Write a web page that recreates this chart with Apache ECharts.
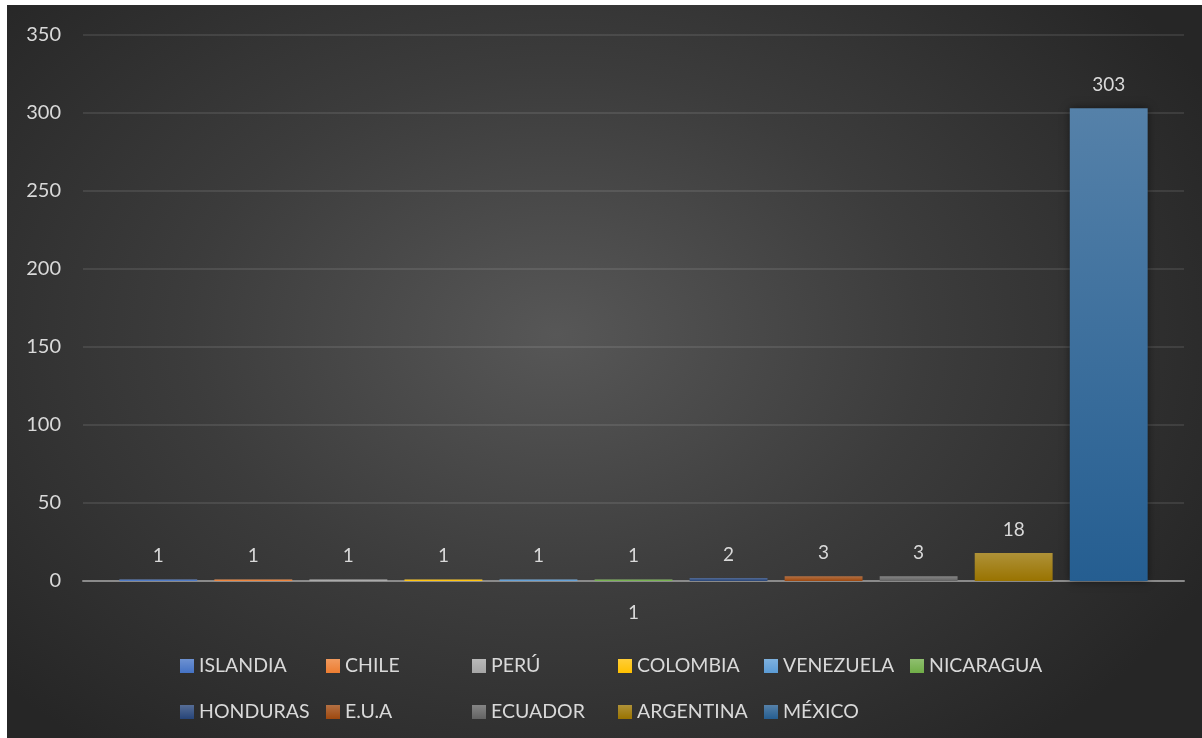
<!DOCTYPE html>
<html>
<head>
<meta charset="utf-8">
<script src="https://cdn.jsdelivr.net/npm/echarts@6/dist/echarts.min.js"></script>
<style>
html,body{margin:0;padding:0;background:#fff;width:1202px;height:738px;overflow:hidden;}
#wrap{position:absolute;left:7px;top:5px;width:1195px;height:733px;
background:radial-gradient(ellipse 62% 72% at 46% 45%, #575757 0%, #3c3c3c 50%, #262626 100%);}
#chart{width:1195px;height:733px;}
</style>
</head>
<body>
<div id="wrap"><div id="chart"></div></div>
<script>
const categories = ['1'];
const seriesNames = ['ISLANDIA','CHILE','PERÚ','COLOMBIA','VENEZUELA','NICARAGUA','HONDURAS','E.U.A','ECUADOR','ARGENTINA','MÉXICO'];
const seriesValues = [1,1,1,1,1,1,2,3,3,18,303];
const seriesColors = ['#4472C4','#ED7D31','#A5A5A5','#FFC000','#5B9BD5','#70AD47','#264478','#9E480E','#636363','#997300','#255E91'];
const yTicks = {min:0, max:350, interval:50};

function tint(hex, t){
  const n=parseInt(hex.slice(1),16);
  let r=(n>>16)&255,g=(n>>8)&255,b=n&255;
  r=Math.round(r+(255-r)*t);g=Math.round(g+(255-g)*t);b=Math.round(b+(255-b)*t);
  return 'rgb('+r+','+g+','+b+')';
}
function grad(c){
  return new echarts.graphic.LinearGradient(0,0,0,1,[
    {offset:0,color:tint(c,0.22)},{offset:1,color:c}]);
}
const font = 'Lato';
const series = seriesNames.map((name,i)=>({
  name:name, type:'bar',
  data: categories.map(()=>seriesValues[i]),
  barGap:'22%', barCategoryGap:'6.6%',
  itemStyle:{color:grad(seriesColors[i]), shadowBlur: i===10?8:0, shadowColor:'rgba(0,0,0,0.5)'},
  label:{show:true, position:'top', distance:14, color:'#d9d9d9', fontSize:19, fontFamily:font}
}));
// one legend component per item, laid out in Excel-like fixed columns
const legends = seriesNames.map((n,i)=>({
  data:[{name:n, itemStyle:{color:grad(seriesColors[i])}}],
  left:173 + (i%6)*146, top: i<6 ? 651 : 697, padding:0,
  itemWidth:14, itemHeight:14, icon:'rect', selectedMode:false,
  textStyle:{color:'#d9d9d9', fontSize:19.5, fontFamily:font}
}));
const chart = echarts.init(document.getElementById('chart'));
chart.setOption({
  backgroundColor:'transparent',
  animation:false,
  textStyle:{fontFamily:font},
  grid:{left:76, right:18, top:30, bottom:157},
  legend:legends,
  xAxis:{type:'category', data:categories,
    axisLine:{lineStyle:{color:'#8a8a8a', width:2}}, axisTick:{show:false},
    axisLabel:{color:'#d9d9d9', fontSize:19, fontFamily:font, margin:22}},
  yAxis:{type:'value', min:yTicks.min, max:yTicks.max, interval:yTicks.interval,
    axisLine:{show:false}, axisTick:{show:false},
    splitLine:{lineStyle:{color:'rgba(255,255,255,0.13)', width:1.5}},
    axisLabel:{color:'#d9d9d9', fontSize:20, fontFamily:font, margin:22}},
  series:series
});
</script>
</body>
</html>
